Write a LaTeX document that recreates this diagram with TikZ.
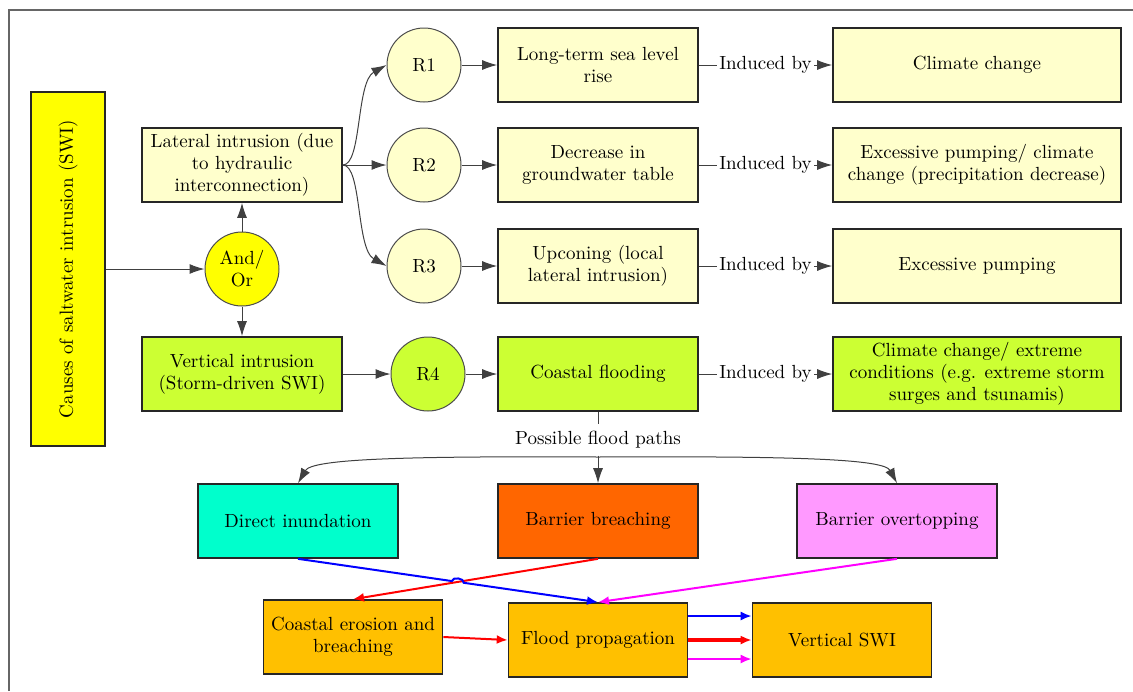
\documentclass[tikz,border=0pt]{standalone}
\usetikzlibrary{arrows.meta,calc,intersections}
\definecolor{swiyellow}{HTML}{FFFF00}
\definecolor{swipale}{HTML}{FFFFCC}
\definecolor{swilime}{HTML}{CCFF33}
\definecolor{swiaqua}{HTML}{00FFCC}
\definecolor{swirust}{HTML}{FF6600}
\definecolor{swipink}{HTML}{FF99FF}
\definecolor{swiamber}{HTML}{FFC000}
\definecolor{swimagenta}{HTML}{FF00FF}
\begin{document}
\begin{tikzpicture}[x=0.5pt, y=-0.5pt, font=\fontsize{9.5}{11}\selectfont,
    box/.style={draw=black!85, line width=0.8pt, minimum width=100pt, minimum height=37pt, align=center, inner sep=1pt},
    widebox/.style={box, minimum width=144pt},
    lowbox/.style={box, minimum width=89.5pt, fill=swiamber},
    ring/.style={circle, draw=black!70, line width=0.5pt, minimum size=37pt, inner sep=0pt, align=center},
    link/.style={draw=black!75, line width=0.5pt, -{Latex[length=7.5pt,width=5pt]}},
    flow/.style={line width=1pt, -{Latex[length=5.5pt,width=4.5pt]}}]

  % frame round the figure
  \useasboundingbox (0,0) rectangle (1133,691);
  \draw[black!60, line width=0.6pt] (9,691) -- (9,10) -- (1133,10);

  % left column
  \node[box, fill=swiyellow, minimum width=37pt, minimum height=177pt] (causes) at (68,269) {\rotatebox{90}{Causes of saltwater intrusion (SWI)}};
  \node[box, fill=swipale] (lateral) at (242,165) {Lateral intrusion (due\\to hydraulic\\interconnection)};
  \node[ring, fill=swiyellow] (andor) at (242,269) {And/\\Or};
  \node[box, fill=swilime] (vertical) at (242,374) {Vertical intrusion\\(Storm-driven SWI)};
  \draw[link] (causes.east) -- (andor.west);
  \draw[link] (andor) -- (lateral);
  \draw[link] (andor) -- (vertical);

  % the three lateral routes, using a loop
  \foreach \i/\y/\what/\why in {1/65/{Long-term sea level\\rise}/{Climate change},
      2/165/{Decrease in\\groundwater table}/{Excessive pumping/ climate\\change (precipitation decrease)},
      3/266/{Upconing (local\\lateral intrusion)}/{Excessive pumping}}{
    \node[ring, fill=swipale] (r\i) at (424,\y) {R\i};
    \node[box, fill=swipale] (effect\i) at (598,\y) {\what};
    \node[widebox, fill=swipale] (source\i) at (977,\y) {\why};
    \draw[link] (r\i) -- (effect\i);
    \draw[link] (effect\i) -- node[fill=white, inner sep=1pt] {Induced by} (source\i);
  }
  \draw[link] (lateral.east) .. controls (362,165) and (356,82) .. (r1.west);
  \draw[link] (lateral.east) -- (r2.west);
  \draw[link] (lateral.east) .. controls (362,165) and (356,249) .. (r3.west);

  % storm-driven route
  \node[ring, fill=swilime] (r4) at (428,374) {R4};
  \node[box, fill=swilime] (flooding) at (598,374) {Coastal flooding};
  \node[widebox, fill=swilime] (source4) at (977,374) {Climate change/ extreme\\conditions (e.g. extreme storm\\surges and tsunamis)};
  \draw[link] (vertical) -- (r4);
  \draw[link] (r4) -- (flooding);
  \draw[link] (flooding) -- node[fill=white, inner sep=1pt] {Induced by} (source4);

  % possible flood paths
  \node (paths) at (598,440) {Possible flood paths};
  \node[box, fill=swiaqua] (direct) at (298,521) {Direct inundation};
  \node[box, fill=swirust] (breach) at (598,521) {Barrier breaching};
  \node[box, fill=swipink] (overtop) at (897,521) {Barrier overtopping};
  \coordinate (split) at (598,457);
  \draw[black!75, line width=0.5pt] (flooding) -- (paths);
  \draw[link] (paths) -- (breach);
  \draw[link] (split) .. controls (400,456) and (312,459) .. (direct.north);
  \draw[link] (split) .. controls (796,456) and (884,459) .. (overtop.north);

  % bottom row
  \node[lowbox] (erosion) at (353,637) {Coastal erosion and\\breaching};
  \node[lowbox] (propagation) at (598,640) {Flood propagation};
  \node[lowbox] (vswi) at (842,640) {Vertical SWI};

  % blue line hops over the red one
  \path[name path=redpath] (breach.south) -- (erosion.north);
  \path[name path=bluepath] (direct.south) -- (propagation.north);
  \path[name intersections={of=redpath and bluepath, by=hop}];
  \draw[flow, red] (breach.south) -- (erosion.north);
  \draw[flow, blue] (direct.south) -- ($(hop)!3pt!(direct.south)$) to[bend left=90] ($(hop)!3pt!(propagation.north)$) -- (propagation.north);
  \draw[flow, swimagenta] (overtop.south) -- (propagation.north);
  \draw[flow, red] (erosion.east) -- (propagation.west);
  \draw[flow, blue] ([yshift=12pt]propagation.east) -- ([yshift=12pt]vswi.west);
  \draw[flow, red, line width=1.6pt] (propagation.east) -- (vswi.west);
  \draw[flow, swimagenta] ([yshift=-9.5pt]propagation.east) -- ([yshift=-9.5pt]vswi.west);
\end{tikzpicture}
\end{document}
